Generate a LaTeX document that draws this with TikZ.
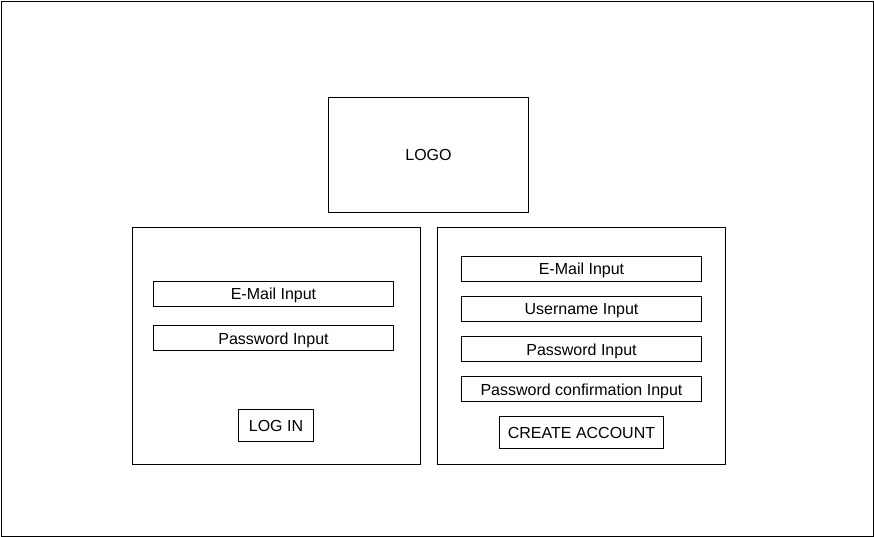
\documentclass[tikz,border=0pt]{standalone}
\usepackage{fontspec}
\setmainfont{Liberation Sans}
\begin{document}
\begin{tikzpicture}[x=1bp, y=-1bp, line width=1bp,
    box/.style={draw, inner sep=0pt, text height=12bp, text depth=0pt,
      font=\fontsize{16bp}{19bp}\selectfont},
    field/.style={box, minimum width=240bp, minimum height=25bp},
    button/.style={box, minimum height=32bp},
    panel/.style={draw, inner sep=0pt, minimum width=288bp, minimum height=237bp}]
    \useasboundingbox (0, 0) rectangle (874, 537);
    \draw (1.5, 1.5) rectangle (873, 536);
    \node [box, minimum width=200bp, minimum height=115bp] (logo) at (428.5, 155) {LOGO};
    % log in panel
    \node [panel] (login) at (276.5, 346) {};
    \node [field] (mail) at (273.5, 294) {E-Mail Input};
    \node [field] (pass) at (273.5, 338) {Password Input};
    \node [button, minimum width=75bp] (loginbtn) at (276, 425.5) {LOG IN};
    % sign up panel
    \node [panel] (signup) at (581.5, 346) {};
    \foreach \txt [count=\i] in {E-Mail Input, Username Input, Password Input, Password confirmation Input}
      \node [field] (field\i) at (581.5, 229 + 40*\i) {\txt};
    \node [button, minimum width=164bp] (createbtn) at (581.5, 432.5) {CREATE ACCOUNT};
\end{tikzpicture}
\end{document}
